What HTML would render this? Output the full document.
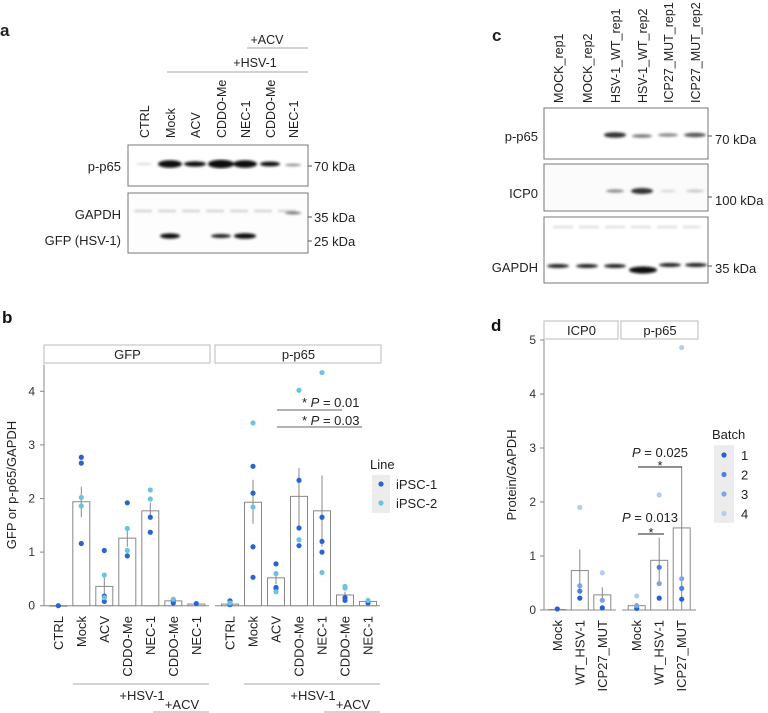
<!DOCTYPE html>
<html><head><meta charset="utf-8"><style>
html,body{margin:0;padding:0;background:#fff}
svg{display:block;font-family:"Liberation Sans",sans-serif}
</style></head><body>
<svg id="fig" width="768" height="713" viewBox="0 0 768 713" xmlns="http://www.w3.org/2000/svg">
<defs>
<filter id="blur1"><feGaussianBlur stdDeviation="1.2"/></filter>
</defs>
<!-- Panel a -->
<g font-size="12.5" fill="#222">
<text x="0" y="36" font-size="17" font-weight="bold">a</text>
<text x="267" y="44" text-anchor="middle">+ACV</text>
<line x1="247" y1="48" x2="308" y2="48" stroke="#888" stroke-width="0.8"/>
<text x="255" y="67" text-anchor="middle">+HSV-1</text>
<line x1="167" y1="72" x2="308" y2="72" stroke="#888" stroke-width="0.8"/>
<g>
<text transform="translate(149,138) rotate(-90)">CTRL</text>
<text transform="translate(175,138) rotate(-90)">Mock</text>
<text transform="translate(200,138) rotate(-90)">ACV</text>
<text transform="translate(226,138) rotate(-90)">CDDO-Me</text>
<text transform="translate(250,138) rotate(-90)">NEC-1</text>
<text transform="translate(275,138) rotate(-90)">CDDO-Me</text>
<text transform="translate(298,138) rotate(-90)">NEC-1</text>
</g>
<rect x="128" y="145" width="180" height="41" fill="#fff" stroke="#777"/>
<g filter="url(#blur1)" fill="#111">
<ellipse cx="144" cy="164" rx="8" ry="0.8" fill="#ccc"/>
<ellipse cx="170" cy="164" rx="12" ry="3.8"/>
<ellipse cx="195" cy="164" rx="11" ry="2.6"/>
<ellipse cx="221" cy="164" rx="13" ry="4.2"/>
<ellipse cx="245" cy="164" rx="12" ry="3.8"/>
<ellipse cx="270" cy="164" rx="10" ry="2.4"/>
<ellipse cx="293" cy="165" rx="8" ry="1.2" fill="#888"/>
</g>
<rect x="128" y="193" width="180" height="60" fill="#fdfdfd" stroke="#777"/>
<g filter="url(#blur1)">
<line x1="134" y1="211" x2="300" y2="211" stroke="#bbb" stroke-width="1.5" stroke-dasharray="18,6"/>
<ellipse cx="293" cy="213" rx="8" ry="1.3" fill="#666"/>
<ellipse cx="170" cy="236" rx="10" ry="2.6" fill="#111"/>
<ellipse cx="221" cy="236" rx="10" ry="2" fill="#222"/>
<ellipse cx="245" cy="236" rx="11" ry="2.8" fill="#111"/>
</g>
<text x="121" y="171" text-anchor="end" font-size="13">p-p65</text>
<text x="121" y="219" text-anchor="end" font-size="13">GAPDH</text>
<text x="121" y="245" text-anchor="end" font-size="13">GFP (HSV-1)</text>
<g stroke="#555"><line x1="308" y1="166" x2="312" y2="166"/><line x1="308" y1="217" x2="312" y2="217"/><line x1="308" y1="241" x2="312" y2="241"/></g>
<text x="314" y="171" font-size="13">70 kDa</text>
<text x="314" y="222" font-size="13">35 kDa</text>
<text x="314" y="246" font-size="13">25 kDa</text>
</g>
<!-- Panel c -->
<g font-size="12.5" fill="#222">
<text x="492" y="41" font-size="17" font-weight="bold">c</text>
<g>
<text transform="translate(563,103) rotate(-90)">MOCK_rep1</text>
<text transform="translate(592,103) rotate(-90)">MOCK_rep2</text>
<text transform="translate(620,103) rotate(-90)">HSV-1_WT_rep1</text>
<text transform="translate(647,103) rotate(-90)">HSV-1_WT_rep2</text>
<text transform="translate(673,103) rotate(-90)">ICP27_MUT_rep1</text>
<text transform="translate(700,103) rotate(-90)">ICP27_MUT_rep2</text>
</g>
<rect x="544" y="108" width="164" height="51" fill="#fff" stroke="#777"/>
<rect x="544" y="164" width="164" height="47" fill="#fbfbfb" stroke="#777"/>
<rect x="544" y="217" width="164" height="66" fill="#fff" stroke="#777"/>
<g filter="url(#blur1)">
<ellipse cx="615" cy="135" rx="11" ry="2.8" fill="#333"/>
<ellipse cx="642" cy="136" rx="10" ry="1.8" fill="#777"/>
<ellipse cx="668" cy="135" rx="10" ry="1.7" fill="#888"/>
<ellipse cx="695" cy="135" rx="11" ry="2.2" fill="#555"/>
<ellipse cx="615" cy="191" rx="9" ry="1.6" fill="#888"/>
<ellipse cx="642" cy="191" rx="11" ry="3" fill="#333"/>
<ellipse cx="668" cy="191" rx="8" ry="1" fill="#ccc"/>
<ellipse cx="695" cy="191" rx="9" ry="1.2" fill="#bbb"/>
<line x1="553" y1="227" x2="700" y2="227" stroke="#ccc" stroke-width="1.4" stroke-dasharray="20,6"/>
<ellipse cx="558" cy="266" rx="11" ry="2" fill="#222"/>
<ellipse cx="587" cy="266" rx="11" ry="2" fill="#222"/>
<ellipse cx="615" cy="266" rx="11" ry="2" fill="#222"/>
<ellipse cx="643" cy="270" rx="14" ry="3.5" fill="#111"/>
<ellipse cx="670" cy="265" rx="11" ry="2" fill="#222"/>
<ellipse cx="696" cy="265" rx="11" ry="2" fill="#222"/>
</g>
<text x="538" y="141" text-anchor="end" font-size="13">p-p65</text>
<text x="538" y="198" text-anchor="end" font-size="13">ICP0</text>
<text x="538" y="272" text-anchor="end" font-size="13">GAPDH</text>
<g stroke="#555"><line x1="708" y1="136" x2="712" y2="136"/><line x1="708" y1="197" x2="712" y2="197"/><line x1="708" y1="266" x2="712" y2="266"/></g>
<text x="715" y="144" font-size="13">70 kDa</text>
<text x="715" y="205" font-size="13">100 kDa</text>
<text x="715" y="273" font-size="13">35 kDa</text>
</g>
<g id="chartB"></g>
<g id="chartD"></g>
</svg>
<script>
// ===== Panel b data =====
const bCats = ["CTRL","Mock","ACV","CDDO-Me","NEC-1","CDDO-Me","NEC-1"];
const bFacets = ["GFP","p-p65"];
const bTicks = [0,1,2,3,4];
const bGfpBars = [0,1.94,0.36,1.26,1.77,0.09,0.03];
const bGfpLo = [0,1.65,0.2,1.1,1.62,0.06,0.02];
const bGfpHi = [0,2.22,0.52,1.43,1.92,0.12,0.04];
const bGfpIpsc1 = [[0],[2.77,2.66,1.16],[1.03,0.18,0.08],[1.92,0.93],[1.65,1.37],[0.05,0.1],[0.04]];
const bGfpIpsc2 = [[],[2.02,1.86],[0.57,0.15],[1.44,1.03],[2.16,1.99],[0.12],[]];
const bP65Bars = [0.03,1.93,0.52,2.04,1.77,0.2,0.08];
const bP65Lo = [0.01,1.53,0.4,1.5,1.1,0.14,0.05];
const bP65Hi = [0.05,2.35,0.65,2.57,2.43,0.26,0.11];
const bP65Ipsc1 = [[0.09,0.02],[2.6,2.1,1.1,0.53],[0.78,0.34,0.32],[2.34,1.45,1.12],[1.65,1.2,1.0],[0.15,0.1],[0.05]];
const bP65Ipsc2 = [[0.05],[3.41,1.84],[0.6,0.26],[4.02,1.23],[4.35,0.62],[0.36,0.33],[0.1]];
const bLegend = ["iPSC-1","iPSC-2"];
// ===== Panel d data =====
const dCats = ["Mock","WT_HSV-1","ICP27_MUT"];
const dFacets = ["ICP0","p-p65"];
const dTicks = [0,1,2,3,4,5];
const dIcp0Bars = [0.01,0.73,0.28];
const dIcp0Lo = [0.01,0.35,0.15];
const dIcp0Hi = [0.01,1.12,0.42];
const dP65Bars = [0.08,0.92,1.52];
const dP65Lo = [0.03,0.5,0.0];
const dP65Hi = [0.13,1.34,2.65];
// points per batch (1..4), per category
const dIcp0Batch = [[0.02,null,null,null],[0.22,0.35,0.45,1.9],[0.04,null,0.18,0.69]];
const dP65Batch = [[0.03,null,0.08,0.26],[0.22,0.79,0.49,2.13],[0.2,0.4,0.58,4.86]];
const dBatches = ["1","2","3","4"];

const NS="http://www.w3.org/2000/svg";
function mk(parent,tag,attrs,text){const e=document.createElementNS(NS,tag);for(const k in attrs)e.setAttribute(k,attrs[k]);if(text!==undefined)e.textContent=text;parent.appendChild(e);return e;}

const c1="#2a63d4", c2="#6cc3dc";
const batchCols=["#2561d6","#4c80dd","#7fa4e6","#b5ccf0"];

// ---------- Panel b ----------
(function(){
const g=document.getElementById('chartB');
const y0=605.7, ppu=53.6;
const yS=v=>y0-v*ppu;
const facetX=[{x0:44,x1:211,c0:58.3},{x0:215,x1:382,c0:230}];
const step=23, bw=17;
const lab=mk(g,'text',{x:2,y:323,'font-size':17,'font-weight':'bold',fill:'#111'},'b');

mk(g,'line',{x1:44,y1:yS(4.5),x2:44,y2:y0,stroke:'#888'});
bTicks.forEach(t=>{
  const tl=mk(g,'text',{x:35,y:yS(t)+4,'text-anchor':'end','font-size':12,fill:'#333'},t);
  
  mk(g,'line',{x1:40,y1:yS(t),x2:44,y2:yS(t),stroke:'#888'});
});
const yt=mk(g,'text',{transform:'translate(16,485) rotate(-90)','text-anchor':'middle','font-size':13,fill:'#222'},'GFP or p-p65/GAPDH');

const series=[[bGfpBars,bGfpLo,bGfpHi,bGfpIpsc1,bGfpIpsc2],[bP65Bars,bP65Lo,bP65Hi,bP65Ipsc1,bP65Ipsc2]];
bFacets.forEach((f,fi)=>{
  const fx=facetX[fi];
  const st=mk(g,'rect',{x:fx.x0,y:345,width:fx.x1-fx.x0-1,height:18,fill:'#fff',stroke:'#bbb'});
  
  mk(g,'text',{x:(fx.x0+fx.x1)/2,y:359,'text-anchor':'middle','font-size':13,fill:'#222'},f);
  mk(g,'line',{x1:fx.x0,y1:y0,x2:fx.x1-2,y2:y0,stroke:'#888'});
  const [bars,lo,hi,p1,p2]=series[fi];
  bCats.forEach((c,i)=>{
    const cx=fx.c0+i*step;
    const r=mk(g,'rect',{x:cx-bw/2,y:yS(bars[i]),width:bw,height:Math.max(0.5,bars[i]*ppu),fill:'#fff',stroke:'#888','stroke-width':1});
    
    if(hi[i]>lo[i]) mk(g,'line',{x1:cx,y1:yS(lo[i]),x2:cx,y2:yS(hi[i]),stroke:'#888'});
    p1[i].forEach(v=>{const d=mk(g,'circle',{cx:cx,cy:yS(v),r:2.6,fill:c1});});
    p2[i].forEach(v=>{const d=mk(g,'circle',{cx:cx,cy:yS(v),r:2.6,fill:c2});});
    const xl=mk(g,'text',{transform:`translate(${cx+4.5},616) rotate(-90)`,'text-anchor':'end','font-size':13,fill:'#222'},c);
    
  });
  const hx=fx.x0+29;
  mk(g,'line',{x1:hx,y1:684,x2:fx.x1-2,y2:684,stroke:'#aaa'});
  mk(g,'text',{x:(hx+fx.x1)/2,y:700,'text-anchor':'middle','font-size':13,fill:'#222'},'+HSV-1');
  mk(g,'line',{x1:fx.x0+109,y1:712,x2:fx.x1-2,y2:712,stroke:'#aaa'});
  mk(g,'text',{x:(fx.x0+109+fx.x1)/2,y:709,'text-anchor':'middle','font-size':13,fill:'#222'},'+ACV');
});
// significance
mk(g,'line',{x1:277,y1:410,x2:342,y2:410,stroke:'#666'});
const s1=mk(g,'text',{x:302,y:407,'font-size':13,fill:'#222'});s1.innerHTML='* <tspan font-style="italic">P</tspan> = 0.01';
mk(g,'line',{x1:277,y1:427,x2:362,y2:427,stroke:'#666'});
const s2=mk(g,'text',{x:302,y:425,'font-size':13,fill:'#222'});s2.innerHTML='* <tspan font-style="italic">P</tspan> = 0.03';
// legend
mk(g,'text',{x:370,y:469,'font-size':13,fill:'#222'},'Line');
mk(g,'rect',{x:372,y:475,width:18,height:38,fill:'#ececec'});
bLegend.forEach((l,i)=>{
  const e=mk(g,'g',{});
  mk(e,'circle',{cx:381,cy:484+i*19,r:2.6,fill:i?c2:c1});
  mk(e,'text',{x:396,y:489+i*19,'font-size':13,fill:'#222'},l);
});
})();

// ---------- Panel d ----------
(function(){
const g=document.getElementById('chartD');
const y0=610, ppu=54;
const yS=v=>y0-v*ppu;
const facets=[{x0:544,x1:619,c0:557.3},{x0:621,x1:699,c0:636.7}];
const step=22.5,bw=17;
const lab=mk(g,'text',{x:491,y:331,'font-size':17,'font-weight':'bold',fill:'#111'},'d');

mk(g,'line',{x1:544,y1:yS(5),x2:544,y2:y0,stroke:'#888'});
dTicks.forEach(t=>{
  const tl=mk(g,'text',{x:536,y:yS(t)+4,'text-anchor':'end','font-size':12,fill:'#333'},t);
  
  mk(g,'line',{x1:540,y1:yS(t),x2:544,y2:yS(t),stroke:'#888'});
});
const yt=mk(g,'text',{transform:'translate(516,475) rotate(-90)','text-anchor':'middle','font-size':13,fill:'#222'},'Protein/GAPDH');

const series=[[dIcp0Bars,dIcp0Lo,dIcp0Hi,dIcp0Batch],[dP65Bars,dP65Lo,dP65Hi,dP65Batch]];
dFacets.forEach((f,fi)=>{
  const fx=facets[fi];
  const st=mk(g,'rect',{x:fx.x0,y:321,width:fx.x1-fx.x0-1,height:18,fill:'#fff',stroke:'#bbb'});
  
  mk(g,'text',{x:(fx.x0+fx.x1)/2,y:335,'text-anchor':'middle','font-size':13,fill:'#222'},f);
  mk(g,'line',{x1:fx.x0+(fi?1:0),y1:y0,x2:fx.x1-3,y2:y0,stroke:'#888'});
  const [bars,lo,hi,pts]=series[fi];
  dCats.forEach((c,i)=>{
    const cx=fx.c0+i*step;
    const r=mk(g,'rect',{x:cx-bw/2,y:yS(bars[i]),width:bw,height:Math.max(0.5,bars[i]*ppu),fill:'#fff',stroke:'#888'});
    
    if(hi[i]>lo[i]) mk(g,'line',{x1:cx,y1:yS(lo[i]),x2:cx,y2:yS(hi[i]),stroke:'#888'});
    pts[i].forEach((v,b)=>{ if(v===null)return;
      const d=mk(g,'circle',{cx:cx,cy:yS(v),r:2.6,fill:batchCols[b]});
      });
    const xl=mk(g,'text',{transform:`translate(${cx+4.5},620) rotate(-90)`,'text-anchor':'end','font-size':13,fill:'#222'},c);
    
  });
});
mk(g,'line',{x1:638,y1:534,x2:664,y2:534,stroke:'#222'});
mk(g,'text',{x:651,y:537,'text-anchor':'middle','font-size':13,fill:'#222'},'*');
const t1=mk(g,'text',{x:650,y:522,'text-anchor':'middle','font-size':13,fill:'#222'});t1.innerHTML='<tspan font-style="italic">P</tspan> = 0.013';
mk(g,'line',{x1:638,y1:467,x2:682,y2:467,stroke:'#222'});
mk(g,'text',{x:660,y:470,'text-anchor':'middle','font-size':13,fill:'#222'},'*');
const t2=mk(g,'text',{x:660,y:457,'text-anchor':'middle','font-size':13,fill:'#222'});t2.innerHTML='<tspan font-style="italic">P</tspan> = 0.025';
mk(g,'text',{x:712,y:439,'font-size':13,fill:'#222'},'Batch');
mk(g,'rect',{x:714,y:445,width:20,height:78,fill:'#ececec'});
dBatches.forEach((b,i)=>{
  const e=mk(g,'g',{});
  mk(e,'circle',{cx:724,cy:455+i*19.5,r:2.6,fill:batchCols[i]});
  mk(e,'text',{x:741,y:460+i*19.5,'font-size':13,fill:'#222'},b);
});
})();
</script>
</body></html>
